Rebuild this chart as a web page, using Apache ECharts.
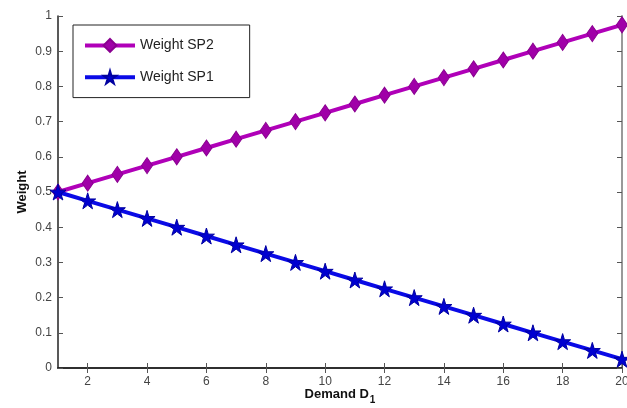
<!DOCTYPE html>
<html>
<head>
<meta charset="utf-8">
<script src="https://cdn.jsdelivr.net/npm/echarts@6/dist/echarts.min.js"></script>
<style>html,body{margin:0;padding:0;background:#fff}#c{width:627px;height:408px}</style>
</head>
<body>
<div id="c"></div>
<script>
var demand = [1,2,3,4,5,6,7,8,9,10,11,12,13,14,15,16,17,18,19,20];
var weightSP2 = [0.5,0.525,0.55,0.575,0.6,0.625,0.65,0.675,0.7,0.725,0.75,0.775,0.8,0.825,0.85,0.875,0.9,0.925,0.95,0.975];
var weightSP1 = [0.5,0.475,0.45,0.425,0.4,0.375,0.35,0.325,0.3,0.275,0.25,0.225,0.2,0.175,0.15,0.125,0.1,0.075,0.05,0.025];
var xTicks = [2,4,6,8,10,12,14,16,18,20];
var yTicks = [0,0.1,0.2,0.3,0.4,0.5,0.6,0.7,0.8,0.9,1];

var star = 'path://M50,0 L61,35 L98,35 L68,57 L79,91 L50,70 L21,91 L32,57 L2,35 L39,35 Z';
var font = 'Liberation Sans, Arial, Helvetica, sans-serif';
function pairs(xs, ys){ return xs.map(function(x,i){return [x, ys[i]];}); }

var chart = echarts.init(document.getElementById('c'));
var axLine = {show:true, lineStyle:{color:'#222', width:1.5}};
var tick = {show:true, inside:true, length:5, lineStyle:{color:'#555', width:1}};
chart.setOption({
  animation:false,
  backgroundColor:'#fff',
  grid:{left:58, right:5, top:16, bottom:40, containLabel:false, outerBoundsMode:'none'},
  legend:{
    left:73, top:25, orient:'vertical',
    itemWidth:50, itemHeight:16, itemGap:17,
    padding:[13,36,13,10],
    borderColor:'#222', borderWidth:1,
    textStyle:{fontFamily:font, fontSize:14, color:'#222'},
    data:[
      {name:'Weight SP2', lineStyle:{width:4}},
      {name:'Weight SP1', lineStyle:{width:4}}
    ]
  },
  xAxis:[{
    type:'value', min:1, max:20,
    name:'{b|Demand D}{s|1}', nameLocation:'middle', nameGap:16, nameMoveOverlap:false,
    nameTextStyle:{rich:{
      b:{fontFamily:font, fontWeight:'bold', fontSize:13, color:'#111'},
      s:{fontFamily:font, fontWeight:'bold', fontSize:10, color:'#111', verticalAlign:'bottom', padding:[11,0,0,1]}
    }},
    axisLine:axLine, axisTick:Object.assign({customValues:xTicks}, tick),
    axisLabel:{customValues:xTicks, fontFamily:font, fontSize:12, color:'#444', margin:8},
    splitLine:{show:false}
  },{
    type:'value', min:1, max:20, position:'top',
    axisLine:axLine, axisTick:Object.assign({customValues:xTicks}, tick),
    axisLabel:{show:false}, splitLine:{show:false}
  }],
  yAxis:[{
    type:'value', min:0, max:1, interval:0.1,
    name:'Weight', nameLocation:'middle', nameGap:29, nameMoveOverlap:false,
    nameTextStyle:{fontFamily:font, fontWeight:'bold', fontSize:13, color:'#111'},
    axisLine:axLine, axisTick:Object.assign({customValues:yTicks}, tick),
    axisLabel:{customValues:yTicks, fontFamily:font, fontSize:12, color:'#444', margin:6},
    splitLine:{show:false}
  },{
    type:'value', min:0, max:1, interval:0.1, position:'right',
    axisLine:{show:true, lineStyle:{color:'#999', width:2}}, axisTick:Object.assign({customValues:yTicks}, tick),
    axisLabel:{show:false}, splitLine:{show:false}
  }],
  series:[{
    name:'Weight SP2', type:'line', data:pairs(demand, weightSP2),
    symbol:'diamond', symbolSize:[11,16],
    lineStyle:{color:'#b000b8', width:4},
    itemStyle:{color:'#a000a8', borderColor:'#8a0090', borderWidth:1},
    z:3
  },{
    name:'Weight SP1', type:'line', data:pairs(demand, weightSP1),
    symbol:star, symbolSize:16,
    lineStyle:{color:'#0a0ae6', width:4},
    itemStyle:{color:'#0000d0', borderColor:'#0000a0', borderWidth:1},
    z:4
  }]
});
</script>
</body>
</html>
